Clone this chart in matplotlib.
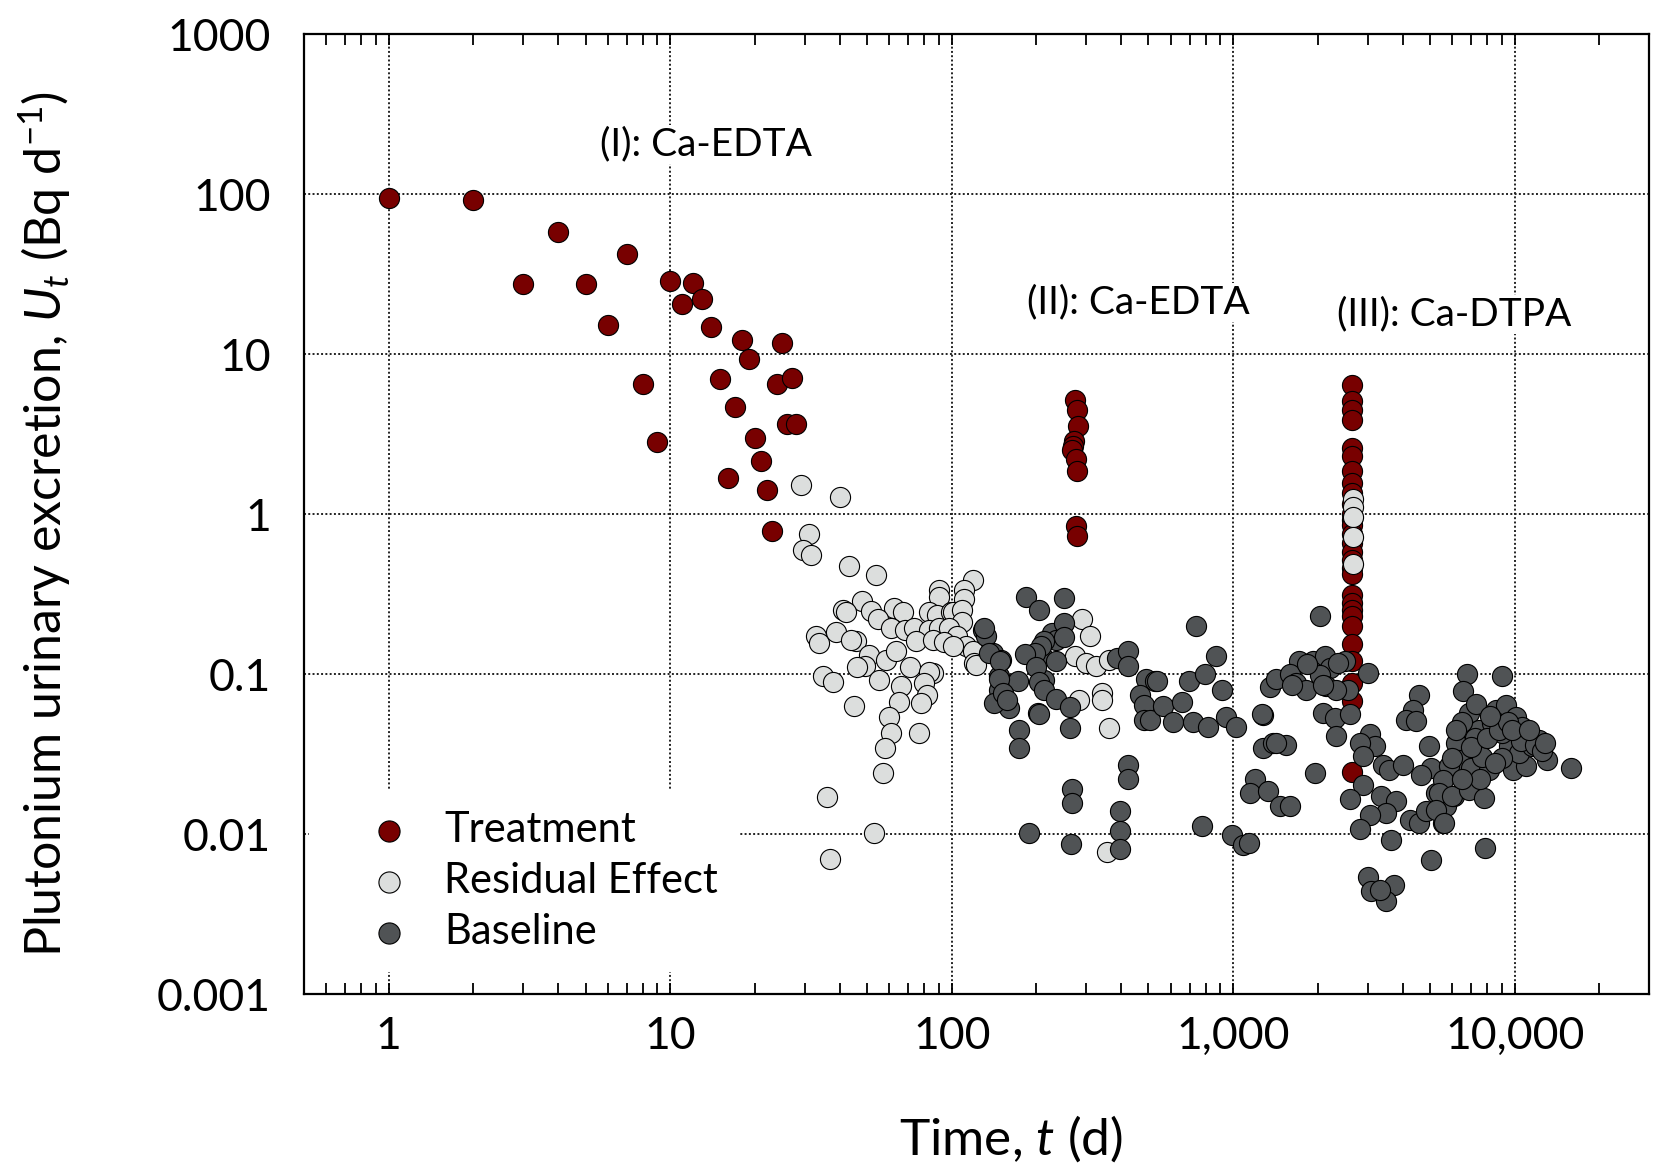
import matplotlib

matplotlib.use("Agg")
import matplotlib.pyplot as plt
from matplotlib.ticker import FixedLocator, FixedFormatter, LogLocator, NullFormatter

plt.rcParams['font.family'] = ['Lato', 'DejaVu Sans']
plt.rcParams['mathtext.fontset'] = 'custom'
plt.rcParams['mathtext.rm'] = 'Lato'
plt.rcParams['mathtext.it'] = 'Lato:italic'

# ---- data ----
# treatment periods: (I) days 1-28, (II) ~day 275, (III) ~day 2640
treat_t = [1, 2, 3, 4, 5, 6, 7, 8, 9, 10, 11, 12, 13, 14, 15, 16, 17, 18, 19, 20,
           21, 22, 23, 24, 25, 26, 27, 28,
           275, 278, 280, 272, 270, 268, 276, 279, 277, 278,
           2640, 2640, 2645, 2640, 2635, 2640, 2645, 2640, 2635, 2640, 2645, 2640,
           2635, 2640, 2645, 2640, 2635, 2640, 2645, 2640, 2635, 2640, 2645, 2640,
           2635, 2640, 2645, 2640, 2640]
treat_u = [94, 92, 27.5, 57.7, 27.5, 15.1, 42, 6.5, 2.83, 28.8, 20.6, 27.9, 22.2,
           14.8, 7.0, 1.67, 4.65, 12.2, 9.35, 3.0, 2.16, 1.41, 0.78, 6.47, 11.7,
           3.66, 7.1, 3.66,
           5.2, 4.5, 3.54, 2.85, 2.66, 2.53, 2.2, 1.85, 0.84, 0.73,
           6.4, 5.1, 4.5, 3.9, 2.6, 2.3, 1.86, 1.57, 1.35, 1.16, 1.0, 0.92,
           0.85, 0.75, 0.66, 0.58, 0.52, 0.46, 0.42, 0.31, 0.28, 0.25, 0.23, 0.2,
           0.155, 0.12, 0.088, 0.068, 0.0245]

resid_t = [29.2, 40.2, 31, 29.6, 31.7, 43, 53.8, 119, 90, 90.4, 111, 111, 47.9,
           41, 42.2, 62.5, 67, 51.8, 54.6, 83, 89, 99, 101, 109, 109, 61, 68,
           73.7, 83.3, 90.3, 98, 104, 112.5, 33, 33.9, 38.8, 45.7, 44, 74.5,
           85.6, 94, 101, 119, 120, 51, 58.5, 63.4, 49, 46, 70.8, 85.7, 83,
           55.3, 66, 34.8, 37.9, 80, 82, 77.8, 65, 60, 61, 57.7, 57, 44.9, 76.8,
           122, 36, 53, 37,
           283, 341, 341, 362, 291, 309, 274, 301, 325, 362, 357,
           2660, 2660, 2660, 2660, 2660]
resid_u = [1.52, 1.28, 0.75, 0.6, 0.557, 0.471, 0.418, 0.389, 0.336, 0.305, 0.335,
           0.294, 0.285, 0.25, 0.245, 0.26, 0.245, 0.247, 0.22, 0.245, 0.235,
           0.245, 0.245, 0.25, 0.213, 0.194, 0.189, 0.194, 0.189, 0.194, 0.194,
           0.172, 0.149, 0.172, 0.157, 0.184, 0.16, 0.163, 0.16, 0.163, 0.158,
           0.149, 0.14, 0.118, 0.132, 0.122, 0.14, 0.113, 0.11, 0.111, 0.101,
           0.103, 0.092, 0.084, 0.097, 0.089, 0.088, 0.074, 0.066, 0.067, 0.054,
           0.043, 0.0345, 0.024, 0.063, 0.043, 0.114, 0.017, 0.0102, 0.007,
           0.069, 0.076, 0.069, 0.046, 0.22, 0.172, 0.129, 0.117, 0.112, 0.123,
           0.0077,
           1.25, 1.1, 0.96, 0.72, 0.49]

base_t = [129, 132, 140, 150, 147.5, 147.5, 160, 141.7, 174, 174, 171.5, 202, 213,
          184, 205, 228, 235, 210, 130, 136, 149, 147, 152, 157, 250, 250, 250,
          213, 207, 197, 234, 182, 200, 204, 213, 234, 264, 264, 204, 188, 267,
          267, 266,
          386, 424, 424, 488, 527, 535, 466, 480, 480, 507, 562, 613, 655, 698,
          722, 736, 795, 814, 865, 910, 946, 1025, 424, 424, 396, 396, 396, 773,
          987, 1085,
          1277, 1270, 1277, 1386, 1545, 1420, 1193, 1146, 1331, 1463, 1597, 1946,
          1356, 1424, 1713, 1586, 1676, 1819, 1920, 2110, 2200, 2030, 2140, 2030,
          2490, 2550, 2320, 2080, 2290, 2590, 2320, 1140, 1830, 2350, 2080, 1620,
          3020, 3050, 3180, 2810, 2890, 3400, 3590, 4000, 2890, 2590, 3350, 3790,
          3500, 3050, 2810, 3640, 4940, 5040, 4640, 4580, 4340, 4120, 4460, 4230,
          4580, 4840, 5240, 5540, 5700, 6100, 5040, 7840, 3010, 3090, 3710, 3480,
          3310,
          6790, 6540, 8980, 6890, 6620, 6180, 6360, 5850, 5540, 5400, 5250, 5620,
          6010, 6890, 7790, 6990, 8110, 7680, 7480, 8330, 8570, 9290, 10080,
          10650, 10940, 12200, 13060, 15800, 9820, 10940, 9550, 9040, 10360,
          11550, 7200, 7000, 8000, 8800, 9500, 10500, 11800, 12500, 9000, 8500,
          7500, 6500, 6000, 6500, 7300, 8200, 9800, 11200, 12800, 6200]
base_u = [0.189, 0.172, 0.135, 0.123, 0.097, 0.08, 0.061, 0.066, 0.045, 0.0345,
          0.09, 0.057, 0.092, 0.305, 0.252, 0.18, 0.164, 0.129, 0.194, 0.136,
          0.12, 0.093, 0.076, 0.069, 0.3, 0.21, 0.17, 0.16, 0.15, 0.136, 0.12,
          0.133, 0.11, 0.089, 0.08, 0.07, 0.062, 0.046, 0.056, 0.0102, 0.019,
          0.0156, 0.0087,
          0.126, 0.139, 0.112, 0.093, 0.09, 0.091, 0.074, 0.064, 0.052, 0.052,
          0.063, 0.05, 0.067, 0.09, 0.05, 0.199, 0.1, 0.047, 0.13, 0.08, 0.054,
          0.047, 0.027, 0.022, 0.014, 0.0104, 0.0081, 0.0112, 0.0099, 0.0085,
          0.0557, 0.056, 0.0345, 0.037, 0.036, 0.037, 0.022, 0.018, 0.0187,
          0.015, 0.015, 0.024, 0.083, 0.093, 0.12, 0.1, 0.088, 0.08, 0.12, 0.13,
          0.109, 0.099, 0.084, 0.23, 0.12, 0.08, 0.08, 0.057, 0.053, 0.056,
          0.041, 0.0088, 0.115, 0.117, 0.086, 0.085,
          0.102, 0.042, 0.0354, 0.037, 0.0306, 0.027, 0.025, 0.027, 0.0204,
          0.0165, 0.0174, 0.016, 0.0135, 0.0132, 0.0107, 0.0092, 0.0353, 0.0259,
          0.0235, 0.074, 0.06, 0.052, 0.051, 0.0123, 0.0117, 0.0139, 0.018,
          0.0117, 0.0149, 0.0172, 0.0069, 0.0082, 0.0054, 0.0044, 0.0048,
          0.0038, 0.0045,
          0.1, 0.078, 0.097, 0.057, 0.047, 0.037, 0.029, 0.0265, 0.0219, 0.018,
          0.0142, 0.0117, 0.0172, 0.0189, 0.0168, 0.0258, 0.0252, 0.0305, 0.0449,
          0.0494, 0.0598, 0.0643, 0.0543, 0.047, 0.0407, 0.0389, 0.029, 0.0258,
          0.0252, 0.0265, 0.0353, 0.0428, 0.032, 0.0353, 0.04, 0.035, 0.04,
          0.045, 0.05, 0.038, 0.036, 0.033, 0.03, 0.028, 0.022, 0.022, 0.03,
          0.05, 0.065, 0.055, 0.045, 0.045, 0.037, 0.045]

x_ticks = [1, 10, 100, 1000, 10000]
x_labels = ['1', '10', '100', '1,000', '10,000']
y_ticks = [0.001, 0.01, 0.1, 1, 10, 100, 1000]
y_labels = ['0.001', '0.01', '0.1', '1', '10', '100', '1000']

notes = ['(I): Ca-EDTA', '(II): Ca-EDTA', '(III): Ca-DTPA']
note_t = [13.4, 461, 6070]
note_u = [205, 21, 17.7]

fig = plt.figure(figsize=(16.54, 11.64), dpi=100)
ax = fig.add_axes([0.1838, 0.146, 0.8132, 0.8247])
ax.set_xscale('log')
ax.set_yscale('log')
ax.set_xlim(0.5, 30000)
ax.set_ylim(0.001, 1000)
ax.set_axisbelow(True)

mk = dict(s=210, edgecolors='black', linewidths=0.8, zorder=3)
ax.scatter(treat_t, treat_u, c='#780000', label='Treatment', **mk)
ax.scatter(resid_t, resid_u, c='#dcdedd', label='Residual Effect', **mk)
ax.scatter(base_t, base_u, c='#505355', label='Baseline', **mk)

ax.grid(True, which='major', linestyle=(0, (1, 1.2)), color='#222222', linewidth=1.4)

ax.xaxis.set_major_locator(FixedLocator(x_ticks))
ax.xaxis.set_major_formatter(FixedFormatter(x_labels))
ax.xaxis.set_minor_locator(LogLocator(base=10, subs=range(2, 10), numticks=20))
ax.xaxis.set_minor_formatter(NullFormatter())
ax.yaxis.set_major_locator(FixedLocator(y_ticks))
ax.yaxis.set_major_formatter(FixedFormatter(y_labels))
ax.yaxis.set_minor_locator(FixedLocator([]))

ax.tick_params(axis='x', which='both', direction='in', top=True, bottom=True,
               length=8, width=1.3, labelsize=32, pad=16)
ax.tick_params(axis='y', which='both', length=0, labelsize=32, pad=24)
for sp in ax.spines.values():
    sp.set_linewidth(1.6)

ax.set_xlabel(r'Time, $t$ (d)', fontsize=37)
ax.set_ylabel(r'Plutonium urinary excretion, $U_t$ (Bq d$^{-1}$)', fontsize=36)
ax.xaxis.set_label_coords(0.526, -0.124)
ax.yaxis.set_label_coords(-0.172, 0.49)

for txt, tx, ty in zip(notes, note_t, note_u):
    ax.text(tx, ty, txt, fontsize=28, ha='center', va='center', zorder=4,
            bbox=dict(facecolor='white', edgecolor='none', pad=1))

leg = ax.legend(loc='lower left', bbox_to_anchor=(0.004, 0.023), borderaxespad=0,
                fontsize=30, frameon=True, fancybox=False, framealpha=1,
                edgecolor='none', handlelength=2.83, handletextpad=-0.1,
                borderpad=0.5, labelspacing=0.31, markerscale=1.05)
leg.set_zorder(5)

fig.savefig('out.png', dpi=100)
plt.close(fig)
